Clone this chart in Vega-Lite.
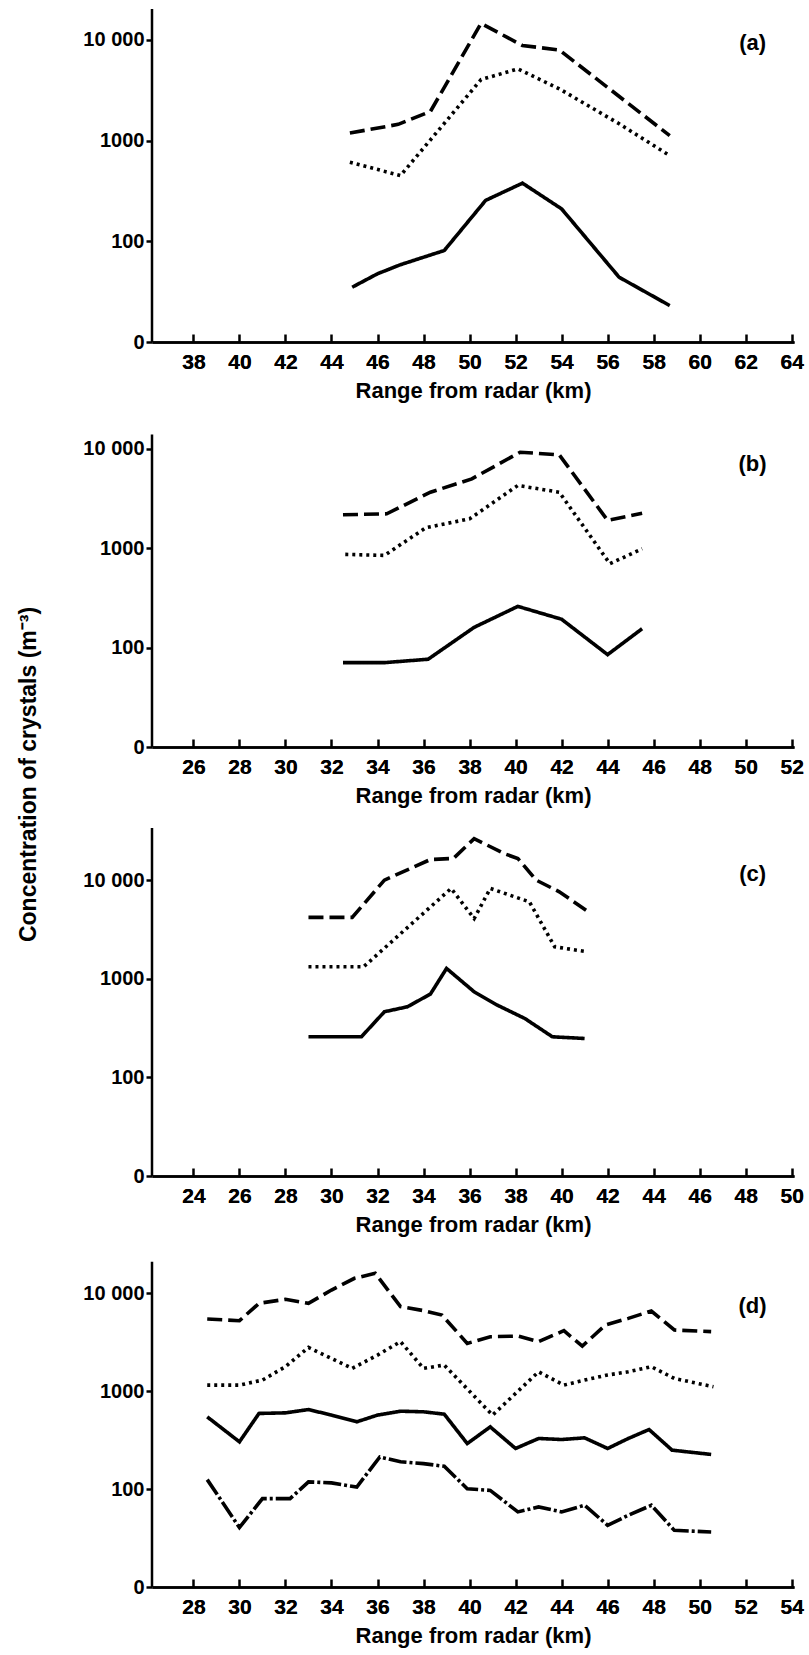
{
  "$schema": "https://vega.github.io/schema/vega-lite/v6.json",
  "background": "white",
  "padding": {"left": 17, "top": 7, "right": 2, "bottom": 2},
  "bounds": "flush",
  "spacing": 81,
  "datasets": {
    "lines": [
      {"panel": "a", "series": "dash", "x": 44.8, "y": 1190},
      {"panel": "a", "series": "dash", "x": 46.9, "y": 1450},
      {"panel": "a", "series": "dash", "x": 48.3, "y": 1950},
      {"panel": "a", "series": "dash", "x": 50.5, "y": 14600},
      {"panel": "a", "series": "dash", "x": 52.3, "y": 8800},
      {"panel": "a", "series": "dash", "x": 53.9, "y": 7950},
      {"panel": "a", "series": "dash", "x": 58.7, "y": 1120},
      {"panel": "a", "series": "dot", "x": 44.8, "y": 610},
      {"panel": "a", "series": "dot", "x": 47.0, "y": 450},
      {"panel": "a", "series": "dot", "x": 50.5, "y": 4040},
      {"panel": "a", "series": "dot", "x": 52.1, "y": 5150},
      {"panel": "a", "series": "dot", "x": 53.9, "y": 3270},
      {"panel": "a", "series": "dot", "x": 56.5, "y": 1470},
      {"panel": "a", "series": "dot", "x": 58.7, "y": 710},
      {"panel": "a", "series": "solid", "x": 44.9, "y": 35},
      {"panel": "a", "series": "solid", "x": 46.0, "y": 47.6},
      {"panel": "a", "series": "solid", "x": 47.0, "y": 58.6},
      {"panel": "a", "series": "solid", "x": 48.9, "y": 81},
      {"panel": "a", "series": "solid", "x": 50.7, "y": 255},
      {"panel": "a", "series": "solid", "x": 52.3, "y": 378},
      {"panel": "a", "series": "solid", "x": 54.0, "y": 210},
      {"panel": "a", "series": "solid", "x": 56.5, "y": 44},
      {"panel": "a", "series": "solid", "x": 58.7, "y": 23},

      {"panel": "b", "series": "dash", "x": 32.5, "y": 2170},
      {"panel": "b", "series": "dash", "x": 34.4, "y": 2220},
      {"panel": "b", "series": "dash", "x": 36.3, "y": 3660},
      {"panel": "b", "series": "dash", "x": 38.1, "y": 4990},
      {"panel": "b", "series": "dash", "x": 40.2, "y": 9250},
      {"panel": "b", "series": "dash", "x": 41.9, "y": 8700},
      {"panel": "b", "series": "dash", "x": 44.0, "y": 1905},
      {"panel": "b", "series": "dash", "x": 45.5, "y": 2250},
      {"panel": "b", "series": "dot", "x": 32.6, "y": 867},
      {"panel": "b", "series": "dot", "x": 34.3, "y": 847},
      {"panel": "b", "series": "dot", "x": 36.1, "y": 1607},
      {"panel": "b", "series": "dot", "x": 38.0, "y": 1977},
      {"panel": "b", "series": "dot", "x": 40.1, "y": 4280},
      {"panel": "b", "series": "dot", "x": 41.9, "y": 3660},
      {"panel": "b", "series": "dot", "x": 44.1, "y": 698},
      {"panel": "b", "series": "dot", "x": 45.5, "y": 988},
      {"panel": "b", "series": "solid", "x": 32.5, "y": 70.6},
      {"panel": "b", "series": "solid", "x": 34.3, "y": 70.6},
      {"panel": "b", "series": "solid", "x": 36.2, "y": 76.4},
      {"panel": "b", "series": "solid", "x": 38.2, "y": 160},
      {"panel": "b", "series": "solid", "x": 40.1, "y": 260},
      {"panel": "b", "series": "solid", "x": 42.0, "y": 193},
      {"panel": "b", "series": "solid", "x": 44.0, "y": 85},
      {"panel": "b", "series": "solid", "x": 45.5, "y": 155},

      {"panel": "c", "series": "dash", "x": 29.0, "y": 4190},
      {"panel": "c", "series": "dash", "x": 30.9, "y": 4190},
      {"panel": "c", "series": "dash", "x": 32.3, "y": 10000},
      {"panel": "c", "series": "dash", "x": 34.3, "y": 16200},
      {"panel": "c", "series": "dash", "x": 35.3, "y": 16600},
      {"panel": "c", "series": "dash", "x": 36.2, "y": 26400},
      {"panel": "c", "series": "dash", "x": 37.5, "y": 18600},
      {"panel": "c", "series": "dash", "x": 38.1, "y": 16600},
      {"panel": "c", "series": "dash", "x": 38.9, "y": 10000},
      {"panel": "c", "series": "dash", "x": 39.9, "y": 7620},
      {"panel": "c", "series": "dash", "x": 41.1, "y": 4890},
      {"panel": "c", "series": "dot", "x": 29.0, "y": 1325},
      {"panel": "c", "series": "dot", "x": 31.4, "y": 1325},
      {"panel": "c", "series": "dot", "x": 35.2, "y": 8240},
      {"panel": "c", "series": "dot", "x": 36.2, "y": 4080},
      {"panel": "c", "series": "dot", "x": 36.9, "y": 8240},
      {"panel": "c", "series": "dot", "x": 38.6, "y": 6030},
      {"panel": "c", "series": "dot", "x": 39.7, "y": 2110},
      {"panel": "c", "series": "dot", "x": 41.1, "y": 1880},
      {"panel": "c", "series": "solid", "x": 29.0, "y": 258},
      {"panel": "c", "series": "solid", "x": 31.3, "y": 258},
      {"panel": "c", "series": "solid", "x": 32.3, "y": 463},
      {"panel": "c", "series": "solid", "x": 33.3, "y": 520},
      {"panel": "c", "series": "solid", "x": 34.3, "y": 700},
      {"panel": "c", "series": "solid", "x": 35.0, "y": 1273},
      {"panel": "c", "series": "solid", "x": 36.2, "y": 738},
      {"panel": "c", "series": "solid", "x": 37.2, "y": 541},
      {"panel": "c", "series": "solid", "x": 38.4, "y": 396},
      {"panel": "c", "series": "solid", "x": 39.6, "y": 258},
      {"panel": "c", "series": "solid", "x": 41.0, "y": 248},

      {"panel": "d", "series": "dash", "x": 28.6, "y": 5460},
      {"panel": "d", "series": "dash", "x": 30.0, "y": 5250},
      {"panel": "d", "series": "dash", "x": 30.85, "y": 7900},
      {"panel": "d", "series": "dash", "x": 32.0, "y": 8690},
      {"panel": "d", "series": "dash", "x": 33.0, "y": 7900},
      {"panel": "d", "series": "dash", "x": 34.0, "y": 10800},
      {"panel": "d", "series": "dash", "x": 35.0, "y": 14240},
      {"panel": "d", "series": "dash", "x": 35.9, "y": 16000},
      {"panel": "d", "series": "dash", "x": 37.0, "y": 7310},
      {"panel": "d", "series": "dash", "x": 38.0, "y": 6660},
      {"panel": "d", "series": "dash", "x": 38.8, "y": 6000},
      {"panel": "d", "series": "dash", "x": 39.9, "y": 3080},
      {"panel": "d", "series": "dash", "x": 40.9, "y": 3600},
      {"panel": "d", "series": "dash", "x": 42.1, "y": 3660},
      {"panel": "d", "series": "dash", "x": 43.0, "y": 3210},
      {"panel": "d", "series": "dash", "x": 44.1, "y": 4150},
      {"panel": "d", "series": "dash", "x": 44.9, "y": 2890},
      {"panel": "d", "series": "dash", "x": 45.9, "y": 4740},
      {"panel": "d", "series": "dash", "x": 46.9, "y": 5550},
      {"panel": "d", "series": "dash", "x": 47.9, "y": 6590},
      {"panel": "d", "series": "dash", "x": 48.9, "y": 4220},
      {"panel": "d", "series": "dash", "x": 50.5, "y": 4060},
      {"panel": "d", "series": "dot", "x": 28.6, "y": 1154},
      {"panel": "d", "series": "dot", "x": 30.0, "y": 1154},
      {"panel": "d", "series": "dot", "x": 31.0, "y": 1300},
      {"panel": "d", "series": "dot", "x": 32.0, "y": 1780},
      {"panel": "d", "series": "dot", "x": 33.0, "y": 2800},
      {"panel": "d", "series": "dot", "x": 34.0, "y": 2160},
      {"panel": "d", "series": "dot", "x": 34.9, "y": 1710},
      {"panel": "d", "series": "dot", "x": 36.0, "y": 2340},
      {"panel": "d", "series": "dot", "x": 37.0, "y": 3210},
      {"panel": "d", "series": "dot", "x": 38.0, "y": 1710},
      {"panel": "d", "series": "dot", "x": 38.9, "y": 1850},
      {"panel": "d", "series": "dot", "x": 41.0, "y": 570},
      {"panel": "d", "series": "dot", "x": 43.0, "y": 1580},
      {"panel": "d", "series": "dot", "x": 44.1, "y": 1154},
      {"panel": "d", "series": "dot", "x": 45.0, "y": 1300},
      {"panel": "d", "series": "dot", "x": 46.0, "y": 1464},
      {"panel": "d", "series": "dot", "x": 46.9, "y": 1580},
      {"panel": "d", "series": "dot", "x": 47.9, "y": 1780},
      {"panel": "d", "series": "dot", "x": 48.9, "y": 1350},
      {"panel": "d", "series": "dot", "x": 50.6, "y": 1110},
      {"panel": "d", "series": "solid", "x": 28.6, "y": 547},
      {"panel": "d", "series": "solid", "x": 30.0, "y": 304},
      {"panel": "d", "series": "solid", "x": 30.85, "y": 593},
      {"panel": "d", "series": "solid", "x": 32.0, "y": 601},
      {"panel": "d", "series": "solid", "x": 33.0, "y": 650},
      {"panel": "d", "series": "solid", "x": 34.0, "y": 570},
      {"panel": "d", "series": "solid", "x": 35.1, "y": 487},
      {"panel": "d", "series": "solid", "x": 36.0, "y": 570},
      {"panel": "d", "series": "solid", "x": 37.0, "y": 625},
      {"panel": "d", "series": "solid", "x": 38.0, "y": 616},
      {"panel": "d", "series": "solid", "x": 38.9, "y": 583},
      {"panel": "d", "series": "solid", "x": 39.9, "y": 292},
      {"panel": "d", "series": "solid", "x": 40.9, "y": 432},
      {"panel": "d", "series": "solid", "x": 42.0, "y": 260},
      {"panel": "d", "series": "solid", "x": 43.0, "y": 329},
      {"panel": "d", "series": "solid", "x": 44.0, "y": 321},
      {"panel": "d", "series": "solid", "x": 45.0, "y": 334},
      {"panel": "d", "series": "solid", "x": 46.0, "y": 260},
      {"panel": "d", "series": "solid", "x": 46.9, "y": 329},
      {"panel": "d", "series": "solid", "x": 47.8, "y": 406},
      {"panel": "d", "series": "solid", "x": 48.8, "y": 250},
      {"panel": "d", "series": "solid", "x": 50.5, "y": 226},
      {"panel": "d", "series": "dashdot", "x": 28.6, "y": 125},
      {"panel": "d", "series": "dashdot", "x": 30.0, "y": 40.5},
      {"panel": "d", "series": "dashdot", "x": 31.0, "y": 80},
      {"panel": "d", "series": "dashdot", "x": 32.2, "y": 80},
      {"panel": "d", "series": "dashdot", "x": 33.0, "y": 118.6},
      {"panel": "d", "series": "dashdot", "x": 34.0, "y": 115.7},
      {"panel": "d", "series": "dashdot", "x": 35.1, "y": 105},
      {"panel": "d", "series": "dashdot", "x": 36.1, "y": 213},
      {"panel": "d", "series": "dashdot", "x": 37.0, "y": 190},
      {"panel": "d", "series": "dashdot", "x": 38.0, "y": 182},
      {"panel": "d", "series": "dashdot", "x": 38.9, "y": 171},
      {"panel": "d", "series": "dashdot", "x": 39.9, "y": 101},
      {"panel": "d", "series": "dashdot", "x": 40.9, "y": 97},
      {"panel": "d", "series": "dashdot", "x": 42.1, "y": 58.5},
      {"panel": "d", "series": "dashdot", "x": 43.0, "y": 65.8},
      {"panel": "d", "series": "dashdot", "x": 44.0, "y": 58.5},
      {"panel": "d", "series": "dashdot", "x": 45.0, "y": 68.4},
      {"panel": "d", "series": "dashdot", "x": 46.0, "y": 42.7},
      {"panel": "d", "series": "dashdot", "x": 46.9, "y": 54},
      {"panel": "d", "series": "dashdot", "x": 47.9, "y": 68.4},
      {"panel": "d", "series": "dashdot", "x": 48.9, "y": 37.9},
      {"panel": "d", "series": "dashdot", "x": 50.5, "y": 36.5}
    ],
    "labels": [
      {"panel": "a", "x": 62.3, "y": 9400, "label": "(a)"},
      {"panel": "b", "x": 50.3, "y": 7110, "label": "(b)"},
      {"panel": "c", "x": 48.3, "y": 11500, "label": "(c)"},
      {"panel": "d", "x": 52.3, "y": 7420, "label": "(d)"}
    ]
  },
  "vconcat": [
    {
      "width": 642,
      "height": 333,
      "resolve": {"axis": {"x": "independent"}},
      "layer": [
        {
          "data": {"name": "lines"},
          "transform": [{"filter": "datum.panel == 'a'"}],
          "mark": {"type": "line", "color": "black", "strokeWidth": 3.6},
          "encoding": {
            "x": {"field": "x", "type": "quantitative", "scale": {"domain": [36.2, 64.1], "nice": false, "zero": false},
                  "axis": {"orient": "bottom", "values": [38, 40, 42, 44, 46, 48, 50, 52, 54, 56, 58, 60, 62, 64], "title": "Range from radar (km)"}},
            "y": {"field": "y", "type": "quantitative", "scale": {"type": "log", "domain": [10, 20280], "nice": false},
                  "axis": {"values": [10, 100, 1000, 10000], "title": null,
                           "labelExpr": "datum.value <= 10 ? '0' : datum.value >= 10000 ? '10 000' : format(datum.value, 'd')"}},
            "strokeDash": {"field": "series", "type": "nominal", "legend": null,
                           "scale": {"domain": ["dash", "dot", "solid", "dashdot"], "range": [[15, 6], [3, 4], [1, 0], [18, 3, 3, 3]]}}
          }
        },
        {
          "data": {"name": "labels"},
          "transform": [{"filter": "datum.panel == 'a'"}],
          "mark": {"type": "text", "font": "Liberation Sans", "fontWeight": "bold", "fontSize": 22, "color": "black", "align": "center", "baseline": "middle"},
          "encoding": {
            "x": {"field": "x", "type": "quantitative",
                  "axis": {"orient": "top", "offset": -333, "values": [38, 40, 42, 44, 46, 48, 50, 52, 54, 56, 58, 60, 62, 64], "title": null, "labels": false, "domain": false, "ticks": true, "tickSize": 8, "tickWidth": 2.5}},
            "y": {"field": "y", "type": "quantitative"},
            "text": {"field": "label"}
          }
        },
        {
          "data": {"values": [{}]},
          "mark": {"type": "rule", "color": "black", "strokeWidth": 2.5},
          "encoding": {"x": {"datum": 36.2, "type": "quantitative"}, "y": {"datum": 10, "type": "quantitative"}, "y2": {"datum": 20280}}
        }
      ]
    },
    {
      "width": 642,
      "height": 324,
      "resolve": {"axis": {"x": "independent"}},
      "layer": [
        {
          "data": {"name": "lines"},
          "transform": [{"filter": "datum.panel == 'b'"}],
          "mark": {"type": "line", "color": "black", "strokeWidth": 3.6},
          "encoding": {
            "x": {"field": "x", "type": "quantitative", "scale": {"domain": [24.2, 52.1], "nice": false, "zero": false},
                  "axis": {"orient": "bottom", "values": [26, 28, 30, 32, 34, 36, 38, 40, 42, 44, 46, 48, 50, 52], "title": "Range from radar (km)"}},
            "y": {"field": "y", "type": "quantitative", "scale": {"type": "log", "domain": [10, 18200], "nice": false},
                  "axis": {"values": [10, 100, 1000, 10000], "title": "Concentration of crystals (m⁻³)",
                           "titleX": -112, "titleY": 351, "titleFontSize": 23,
                           "labelExpr": "datum.value <= 10 ? '0' : datum.value >= 10000 ? '10 000' : format(datum.value, 'd')"}},
            "strokeDash": {"field": "series", "type": "nominal", "legend": null,
                           "scale": {"domain": ["dash", "dot", "solid", "dashdot"], "range": [[15, 6], [3, 4], [1, 0], [18, 3, 3, 3]]}}
          }
        },
        {
          "data": {"name": "labels"},
          "transform": [{"filter": "datum.panel == 'b'"}],
          "mark": {"type": "text", "font": "Liberation Sans", "fontWeight": "bold", "fontSize": 22, "color": "black", "align": "center", "baseline": "middle"},
          "encoding": {
            "x": {"field": "x", "type": "quantitative",
                  "axis": {"orient": "top", "offset": -324, "values": [26, 28, 30, 32, 34, 36, 38, 40, 42, 44, 46, 48, 50, 52], "title": null, "labels": false, "domain": false, "ticks": true, "tickSize": 8, "tickWidth": 2.5}},
            "y": {"field": "y", "type": "quantitative"},
            "text": {"field": "label"}
          }
        },
        {
          "data": {"values": [{}]},
          "mark": {"type": "rule", "color": "black", "strokeWidth": 2.5},
          "encoding": {"x": {"datum": 24.2, "type": "quantitative"}, "y": {"datum": 10, "type": "quantitative"}, "y2": {"datum": 13930}}
        }
      ]
    },
    {
      "width": 642,
      "height": 348,
      "resolve": {"axis": {"x": "independent"}},
      "layer": [
        {
          "data": {"name": "lines"},
          "transform": [{"filter": "datum.panel == 'c'"}],
          "mark": {"type": "line", "color": "black", "strokeWidth": 3.6},
          "encoding": {
            "x": {"field": "x", "type": "quantitative", "scale": {"domain": [22.2, 50.1], "nice": false, "zero": false},
                  "axis": {"orient": "bottom", "values": [24, 26, 28, 30, 32, 34, 36, 38, 40, 42, 44, 46, 48, 50], "title": "Range from radar (km)"}},
            "y": {"field": "y", "type": "quantitative", "scale": {"type": "log", "domain": [10, 33800], "nice": false},
                  "axis": {"values": [10, 100, 1000, 10000], "title": null,
                           "labelExpr": "datum.value <= 10 ? '0' : datum.value >= 10000 ? '10 000' : format(datum.value, 'd')"}},
            "strokeDash": {"field": "series", "type": "nominal", "legend": null,
                           "scale": {"domain": ["dash", "dot", "solid", "dashdot"], "range": [[15, 6], [3, 4], [1, 0], [18, 3, 3, 3]]}}
          }
        },
        {
          "data": {"name": "labels"},
          "transform": [{"filter": "datum.panel == 'c'"}],
          "mark": {"type": "text", "font": "Liberation Sans", "fontWeight": "bold", "fontSize": 22, "color": "black", "align": "center", "baseline": "middle"},
          "encoding": {
            "x": {"field": "x", "type": "quantitative",
                  "axis": {"orient": "top", "offset": -348, "values": [24, 26, 28, 30, 32, 34, 36, 38, 40, 42, 44, 46, 48, 50], "title": null, "labels": false, "domain": false, "ticks": true, "tickSize": 8, "tickWidth": 2.5}},
            "y": {"field": "y", "type": "quantitative"},
            "text": {"field": "label"}
          }
        },
        {
          "data": {"values": [{}]},
          "mark": {"type": "rule", "color": "black", "strokeWidth": 2.5},
          "encoding": {"x": {"datum": 22.2, "type": "quantitative"}, "y": {"datum": 10, "type": "quantitative"}, "y2": {"datum": 33800}}
        }
      ]
    },
    {
      "width": 642,
      "height": 330,
      "resolve": {"axis": {"x": "independent"}},
      "layer": [
        {
          "data": {"name": "lines"},
          "transform": [{"filter": "datum.panel == 'd'"}],
          "mark": {"type": "line", "color": "black", "strokeWidth": 3.6},
          "encoding": {
            "x": {"field": "x", "type": "quantitative", "scale": {"domain": [26.2, 54.1], "nice": false, "zero": false},
                  "axis": {"orient": "bottom", "values": [28, 30, 32, 34, 36, 38, 40, 42, 44, 46, 48, 50, 52, 54], "title": "Range from radar (km)"}},
            "y": {"field": "y", "type": "quantitative", "scale": {"type": "log", "domain": [10, 23500], "nice": false},
                  "axis": {"values": [10, 100, 1000, 10000], "title": null,
                           "labelExpr": "datum.value <= 10 ? '0' : datum.value >= 10000 ? '10 000' : format(datum.value, 'd')"}},
            "strokeDash": {"field": "series", "type": "nominal", "legend": null,
                           "scale": {"domain": ["dash", "dot", "solid", "dashdot"], "range": [[15, 6], [3, 4], [1, 0], [18, 3, 3, 3]]}}
          }
        },
        {
          "data": {"name": "labels"},
          "transform": [{"filter": "datum.panel == 'd'"}],
          "mark": {"type": "text", "font": "Liberation Sans", "fontWeight": "bold", "fontSize": 22, "color": "black", "align": "center", "baseline": "middle"},
          "encoding": {
            "x": {"field": "x", "type": "quantitative",
                  "axis": {"orient": "top", "offset": -330, "values": [28, 30, 32, 34, 36, 38, 40, 42, 44, 46, 48, 50, 52, 54], "title": null, "labels": false, "domain": false, "ticks": true, "tickSize": 8, "tickWidth": 2.5}},
            "y": {"field": "y", "type": "quantitative"},
            "text": {"field": "label"}
          }
        },
        {
          "data": {"values": [{}]},
          "mark": {"type": "rule", "color": "black", "strokeWidth": 2.5},
          "encoding": {"x": {"datum": 26.2, "type": "quantitative"}, "y": {"datum": 10, "type": "quantitative"}, "y2": {"datum": 21000}}
        }
      ]
    }
  ],
  "config": {
    "view": {"stroke": null},
    "axis": {
      "labelFont": "Liberation Sans", "labelFontWeight": "bold", "labelColor": "black",
      "titleFont": "Liberation Sans", "titleFontWeight": "bold", "titleColor": "black",
      "domainColor": "black", "tickColor": "black", "grid": false, "labelOverlap": false
    },
    "axisBottom": {"labelFontSize": 21, "titleFontSize": 22, "domainWidth": 2.5, "ticks": false, "labelPadding": 9, "titlePadding": 8, "labelFlush": false},
    "axisY": {"labelFontSize": 20, "tickSize": 6, "tickWidth": 2.5, "labelPadding": 2, "domain": false, "labelFlush": false}
  }
}
